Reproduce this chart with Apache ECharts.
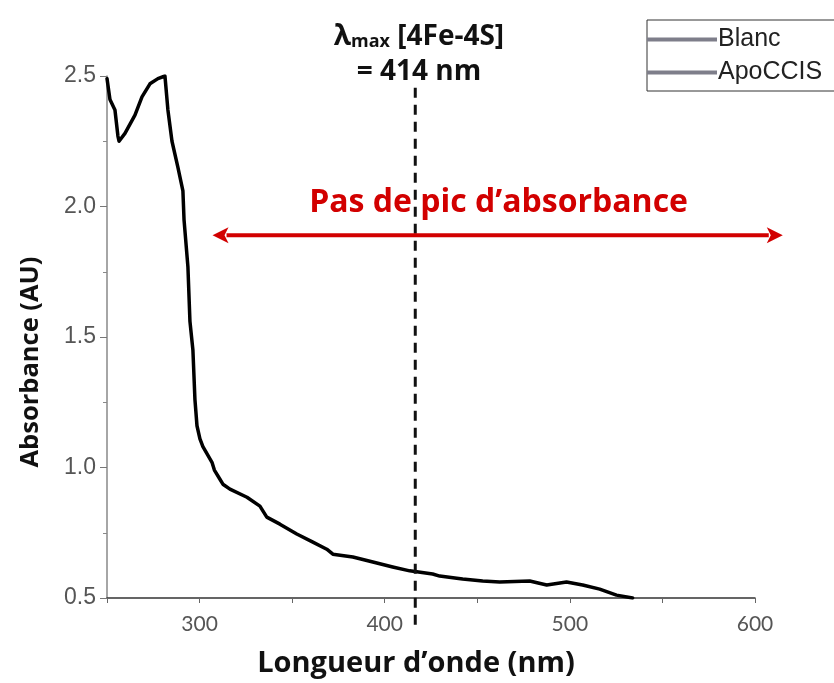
<!DOCTYPE html>
<html><head><meta charset="utf-8">
<script src="https://cdn.jsdelivr.net/npm/echarts@6/dist/echarts.min.js"></script>
<style>html,body{margin:0;padding:0;background:#fff}#c{width:834px;height:683px}</style>
</head><body><div id="c"></div>
<script>
// ---- data ----
const wavelength = [250, 251.6, 254.3, 255.9, 256.5, 259.7, 265.1, 268.9, 273.2, 277.5, 281.3, 282.9, 285.1, 288.3, 291.0, 291.6, 293.7, 294.8, 296.4, 297.5, 298.6, 300.2, 301.8, 306.7, 308, 311, 312.6, 316.4, 325.6, 332.6, 336.3, 343.4, 352.5, 361.2, 368.7, 372, 382.8, 393.6, 404.3, 413.5, 425.9, 429.7, 438.9, 442.1, 452.9, 462.1, 478.3, 487.5, 498.2, 506.9, 516.1, 525.2, 533.9];
const absorbance = [2.49, 2.41, 2.37, 2.27, 2.25, 2.28, 2.35, 2.42, 2.47, 2.49, 2.5, 2.37, 2.25, 2.15, 2.06, 1.95, 1.77, 1.56, 1.45, 1.26, 1.16, 1.11, 1.08, 1.02, 0.99, 0.955, 0.936, 0.917, 0.886, 0.852, 0.81, 0.783, 0.745, 0.714, 0.687, 0.668, 0.657, 0.638, 0.619, 0.604, 0.592, 0.584, 0.576, 0.573, 0.565, 0.561, 0.565, 0.55, 0.561, 0.55, 0.534, 0.511, 0.5];
const seriesNames = ['Blanc', 'ApoCCIS'];
const xLabelTicks = [300, 400, 500, 600];
const lambdaMaxLine = 416.5;          // drawn position of the dashed marker
const lambdaText = ['λ', 'max', ' [4Fe-4S]', '= 414 nm'];
const arrowFrom = 307, arrowTo = 615, arrowLevel = 1.89;
const arrowText = 'Pas de pic d’absorbance';

const chart = echarts.init(document.getElementById('c'), null, {renderer: 'canvas'});
const CAL = '"Open Sans", Lato, sans-serif';
const LAT = 'Lato, "Open Sans", sans-serif';
const option = {
  animation: false,
  backgroundColor: '#fff',
  grid: {left: 107, right: 79, top: 76, bottom: 84, containLabel: false},
  legend: {
    orient: 'vertical', left: 647, top: 20,
    icon: 'rect', itemWidth: 70, itemHeight: 4, itemGap: 8,
    padding: [7, 40, 6, 0],
    borderColor: '#333', borderWidth: 1, backgroundColor: '#fff',
    textStyle: {fontFamily: '"Liberation Sans", Arial', fontSize: 25, color: '#222', lineHeight: 25, padding: [0, 0, 0, -4]},
    data: seriesNames.map(n => ({name: n, icon: 'rect', itemStyle: {color: '#7e7e8a'}}))
  },
  xAxis: {
    type: 'value', min: 250, max: 600, interval: 50,
    axisLine: {lineStyle: {color: '#333', width: 1.5}},
    axisTick: {length: 5, lineStyle: {color: '#666'}},
    splitLine: {show: false},
    axisLabel: {
      margin: 16, fontFamily: LAT, fontSize: 21, color: '#555',
      formatter: v => xLabelTicks.indexOf(v) >= 0 ? String(v) : ''
    },
    name: 'Longueur d’onde (nm)', nameLocation: 'middle', nameGap: 51,
    nameTextStyle: {fontFamily: CAL, fontWeight: 'bold', fontSize: 29, color: '#111', padding: [0, 30, 0, 0]}
  },
  yAxis: {
    type: 'value', min: 0.5, max: 2.5, interval: 0.5,
    axisLine: {show: true, lineStyle: {color: '#888', width: 1.5}},
    axisTick: {length: 7, lineStyle: {color: '#777'}},
    minorTick: {show: true, splitNumber: 2, length: 4, lineStyle: {color: '#888'}},
    splitLine: {show: false},
    axisLabel: {margin: 11, fontFamily: '"Liberation Sans", Arial', fontSize: 23, color: '#555', formatter: v => v.toFixed(1)},
    name: 'Absorbance (AU)', nameLocation: 'middle', nameGap: 63,
    nameTextStyle: {fontFamily: CAL, fontWeight: 'bold', fontSize: 25.5, color: '#111', padding: [0, 50, 0, 0]}
  },
  series: [
    {name: seriesNames[0], type: 'line', data: [], showSymbol: false, itemStyle: {color: '#7e7e8a'}},
    {name: seriesNames[1], type: 'line', showSymbol: false, symbol: 'none',
     data: wavelength.map((w, i) => [w, absorbance[i]]),
     lineStyle: {color: '#000', width: 3.5, join: 'round', cap: 'round'}, itemStyle: {color: '#000'}}
  ]
};
chart.setOption(option);

const P = (x, y) => chart.convertToPixel({gridIndex: 0}, [x, y]);
const dTop = P(lambdaMaxLine, 2.455), dBot = P(lambdaMaxLine, 0.375);
const aL = P(arrowFrom, arrowLevel), aR = P(arrowTo, arrowLevel);
const red = '#d20000';
const txt = P(461.5, 2.012);
const t1 = P(lambdaMaxLine + 2, 2.657), t2 = P(lambdaMaxLine + 2, 2.517);
const head = 16, hw = 8;
chart.setOption({
  graphic: [
    {type: 'line', shape: {x1: dTop[0], y1: dTop[1], x2: dBot[0], y2: dBot[1]},
     style: {stroke: '#111', lineWidth: 3, lineDash: [10, 7]}, z: 10},
    {type: 'line', shape: {x1: aL[0] + head - 2, y1: aL[1], x2: aR[0] - head + 2, y2: aR[1]},
     style: {stroke: red, lineWidth: 4}, z: 10},
    {type: 'polygon', shape: {points: [[aL[0], aL[1]], [aL[0] + head, aL[1] - hw], [aL[0] + head - 4, aL[1]], [aL[0] + head, aL[1] + hw]]},
     style: {fill: red}, z: 10},
    {type: 'polygon', shape: {points: [[aR[0], aR[1]], [aR[0] - head, aR[1] - hw], [aR[0] - head + 4, aR[1]], [aR[0] - head, aR[1] + hw]]},
     style: {fill: red}, z: 10},
    {type: 'text', x: txt[0], y: txt[1], z: 11,
     style: {text: arrowText, fill: red, font: 'bold 32px ' + CAL, align: 'center', verticalAlign: 'middle'}},
    {type: 'text', x: t1[0], y: t1[1], z: 11,
     style: {text: '{a|' + lambdaText[0] + '}{s|' + lambdaText[1] + '}{a|' + lambdaText[2] + '}', align: 'center', verticalAlign: 'middle',
       rich: {a: {font: 'bold 28px ' + CAL, fill: '#111', verticalAlign: 'bottom', lineHeight: 32},
              s: {font: 'bold 18px ' + CAL, fill: '#111', verticalAlign: 'bottom', lineHeight: 24}}}},
    {type: 'text', x: t2[0], y: t2[1], z: 11,
     style: {text: lambdaText[3], fill: '#111', font: 'bold 28px ' + CAL, align: 'center', verticalAlign: 'middle'}}
  ]
});
</script>
</body></html>
